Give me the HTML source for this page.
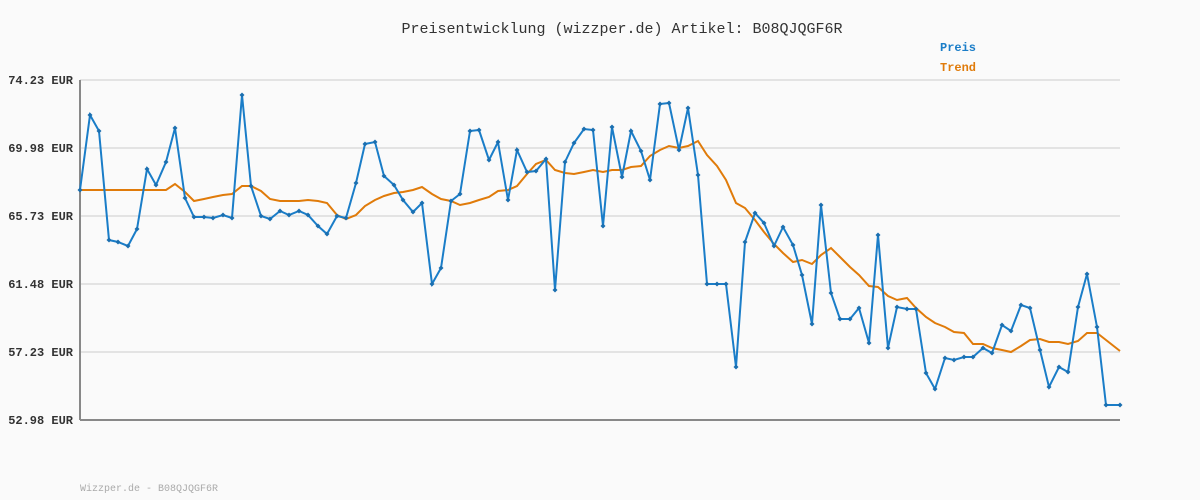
<!DOCTYPE html>
<html><head><meta charset="utf-8"><style>
html,body{margin:0;padding:0;background:#fafafa;}
svg{display:block;}
</style></head><body>
<svg width="1200" height="500" xmlns="http://www.w3.org/2000/svg" font-family="Liberation Mono, monospace">
<defs><marker id="m" markerWidth="5" markerHeight="5" refX="2.5" refY="2.5" markerUnits="userSpaceOnUse"><path d="M2.5 0L5 2.5L2.5 5L0 2.5Z" fill="#1a6fb0"/></marker></defs>
<rect width="1200" height="500" fill="#fafafa"/>
<text x="622" y="33" font-size="15" text-anchor="middle" fill="#333">Preisentwicklung (wizzper.de) Artikel: B08QJQGF6R</text>
<text x="940" y="51" font-size="12" font-weight="bold" fill="#1a7dc8">Preis</text>
<text x="940" y="71" font-size="12" font-weight="bold" fill="#e07b0a">Trend</text>
<g stroke="#e3e3e3" stroke-width="2">
<line x1="80" y1="80" x2="1120" y2="80"/><line x1="80" y1="148" x2="1120" y2="148"/>
<line x1="80" y1="216" x2="1120" y2="216"/><line x1="80" y1="284" x2="1120" y2="284"/>
<line x1="80" y1="352" x2="1120" y2="352"/>
</g>
<line x1="80" y1="80" x2="80" y2="420" stroke="#888" stroke-width="2"/>
<line x1="80" y1="420" x2="1120" y2="420" stroke="#888" stroke-width="2"/>
<g font-size="12" font-weight="bold" fill="#333" text-anchor="end">
<text x="73" y="84">74.23 EUR</text><text x="73" y="152">69.98 EUR</text>
<text x="73" y="220">65.73 EUR</text><text x="73" y="288">61.48 EUR</text>
<text x="73" y="356">57.23 EUR</text><text x="73" y="424">52.98 EUR</text>
</g>
<polyline fill="none" stroke="#e07b0a" stroke-width="2" points="80,190 166,190 175,184 185,192 194,201 204,199 213,197 223,195 232,194 242,186 251,186 261,191 270,199 280,201 289,201 299,201 308,200 318,201 327,203 337,215 346,219 356,215 365,206 375,200 384,196 394,193 403,192 413,190 422,187 432,194 441,199 451,201 460,205 470,203 479,200 489,197 498,191 508,190 517,186 527,174 536,164 546,160 555,170 565,173 574,174 584,172 593,170 603,172 612,170 622,170 631,167 641,166 650,156 660,150 669,146 679,148 688,146 698,141 707,155 717,166 726,180 736,203 745,208 755,220 764,232 774,244 783,253 793,262 802,260 812,264 821,255 831,248 840,257 850,267 859,275 869,286 878,287 888,296 897,300 907,298 916,308 926,317 935,323 945,327 954,332 964,333 973,344 983,344 992,348 1002,350 1011,352 1021,346 1030,340 1040,339 1049,342 1059,342 1068,344 1078,341 1087,333 1097,333 1106,340 1120,351"/>
<polyline fill="none" stroke="#1a7dc8" stroke-width="2" marker-start="url(#m)" marker-mid="url(#m)" marker-end="url(#m)" points="80,190 90,115 99,131 109,240 118,242 128,246 137,229 147,169 156,185 166,162 175,128 185,198 194,217 204,217 213,218 223,215 232,218 242,95 251,186 261,216 270,219 280,211 289,215 299,211 308,215 318,226 327,234 337,216 346,218 356,183 365,144 375,142 384,176 394,185 403,200 413,212 422,203 432,284 441,268 451,201 460,194 470,131 479,130 489,160 498,142 508,200 517,150 527,172 536,171 546,159 555,290 565,162 574,143 584,129 593,130 603,226 612,127 622,177 631,131 641,151 650,180 660,104 669,103 679,150 688,108 698,175 707,284 717,284 726,284 736,367 745,242 755,213 764,223 774,246 783,227 793,245 802,275 812,324 821,205 831,293 840,319 850,319 859,308 869,343 878,235 888,348 897,307 907,309 916,309 926,373 935,389 945,358 954,360 964,357 973,357 983,348 992,353 1002,325 1011,331 1021,305 1030,308 1040,350 1049,387 1059,367 1068,372 1078,307 1087,274 1097,327 1106,405 1120,405"/>
<text x="80" y="491" font-size="10" fill="#aaa">Wizzper.de - B08QJQGF6R</text>
</svg>
</body></html>
